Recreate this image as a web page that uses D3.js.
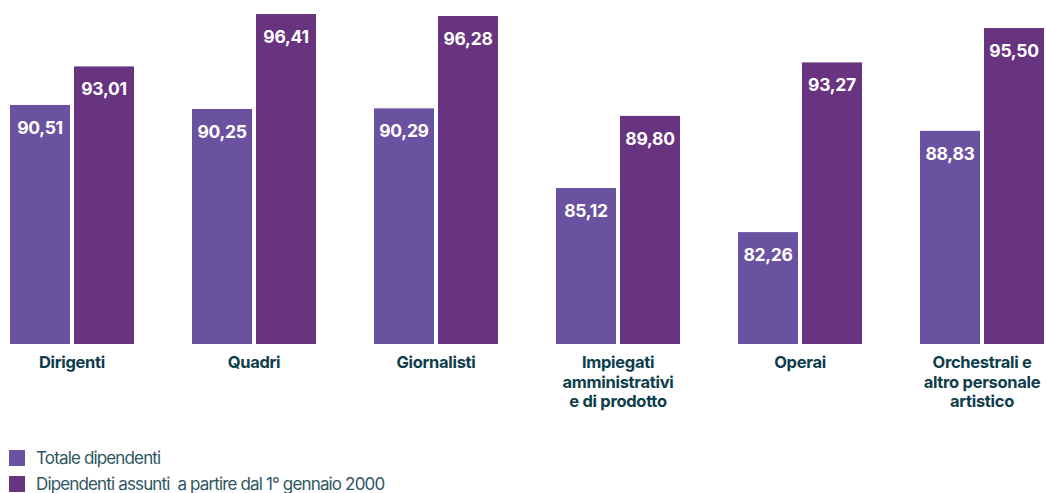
<!DOCTYPE html>
<html><head><meta charset="utf-8">
<script src="https://cdn.jsdelivr.net/npm/d3@7"></script>
<style>
html,body{margin:0;padding:0;background:#fff;}
svg{display:block;}
</style></head>
<body>
<svg id="chart" width="1046" height="493"></svg>
<script>
const categories = [
  ["Dirigenti"],
  ["Quadri"],
  ["Giornalisti"],
  ["Impiegati","amministrativi","e di prodotto"],
  ["Operai"],
  ["Orchestrali e","altro personale","artistico"]
];
const seriesNames = ["Totale dipendenti", "Dipendenti assunti  a partire dal 1° gennaio 2000"];
const totaleValues = [90.51, 90.25, 90.29, 85.12, 82.26, 88.83];
const assuntiValues = [93.01, 96.41, 96.28, 89.80, 93.27, 95.50];
const colors = ["#6b52a1", "#68337f"];

const svg = d3.select("#chart");
const catKeys = categories.map(c => c.join(" "));
const x0 = d3.scaleBand().domain(catKeys).range([10, 1044]).paddingInner(58/182).paddingOuter(0);
const x1 = d3.scaleBand().domain([0,1]).range([0, x0.bandwidth()]).paddingInner(0.0625).paddingOuter(0);
const y = d3.scaleLinear().domain([75, 97.32]).range([344, 0]);

const fmt = v => v.toFixed(2).replace(".", ",");
const data = [];
catKeys.forEach((k, i) => {
  data.push({cat:k, s:0, v: totaleValues[i]});
  data.push({cat:k, s:1, v: assuntiValues[i]});
});

const g = svg.append("g");
g.selectAll("rect.bar").data(data).join("rect")
  .attr("class","bar")
  .attr("x", d => x0(d.cat) + x1(d.s))
  .attr("y", d => y(d.v))
  .attr("width", x1.bandwidth())
  .attr("height", d => y(75) - y(d.v))
  .attr("fill", d => colors[d.s]);

g.selectAll("text.val").data(data).join("text")
  .attr("class","val")
  .attr("x", d => x0(d.cat) + x1(d.s) + x1.bandwidth()/2)
  .attr("y", d => y(d.v) + 29)
  .attr("text-anchor","middle")
  .attr("fill","#fff")
  .attr("font-family","Inter, 'Open Sans', sans-serif")
  .attr("font-weight","700")
  .attr("font-size","17.5px")
  .attr("letter-spacing","-0.3px")
  .text(d => fmt(d.v));

// category labels (axis)
const axis = svg.append("g").attr("transform","translate(0,344)")
  .call(d3.axisBottom(x0).tickSize(0).tickFormat(""));
axis.select(".domain").remove();
categories.forEach((lines, i) => {
  const t = svg.append("text")
    .attr("x", x0(catKeys[i]) + x0.bandwidth()/2)
    .attr("y", 368)
    .attr("text-anchor","middle")
    .attr("fill","#0e3d4b")
    .attr("font-family","Inter, 'Open Sans', sans-serif")
    .attr("font-weight","700")
    .attr("font-size","16.5px")
    .attr("letter-spacing","-0.3px");
  lines.forEach((l, j) => {
    t.append("tspan").attr("x", x0(catKeys[i]) + x0.bandwidth()/2)
      .attr("dy", j === 0 ? 0 : 19.5).text(l);
  });
});

// legend
const leg = svg.append("g");
seriesNames.forEach((n, i) => {
  leg.append("rect").attr("x", 9).attr("y", 450 + i*26).attr("width", 16).attr("height", 16).attr("fill", colors[i]);
  leg.append("text").attr("x", 36).attr("y", 464 + i*26)
    .attr("fill","#2f5661")
    .attr("font-family","Inter, 'Open Sans', sans-serif")
    .attr("font-weight","400")
    .attr("font-size","17px")
    .attr("letter-spacing","-0.85px")
    .attr("xml:space","preserve")
    .style("white-space","pre")
    .text(n);
});
</script>
</body></html>
